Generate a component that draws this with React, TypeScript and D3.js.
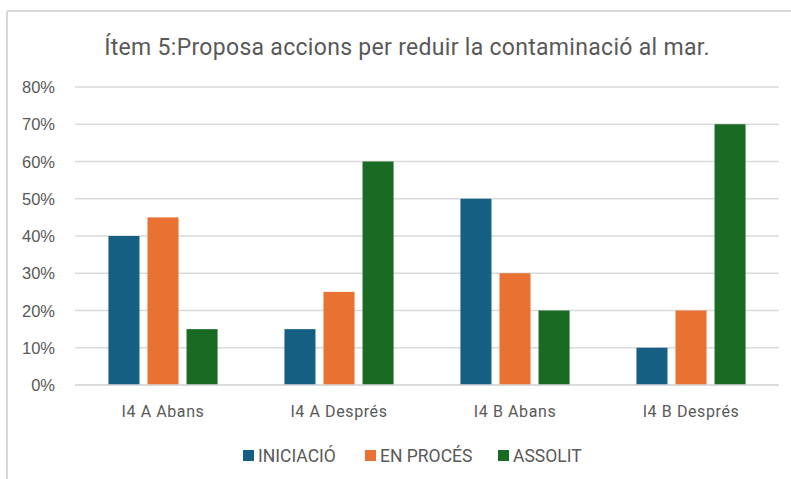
import React from "react";
import * as d3 from "d3";

const categories = ["I4 A Abans", "I4 A Després", "I4 B Abans", "I4 B Després"];
const seriesNames = ["INICIACIÓ", "EN PROCÉS", "ASSOLIT"];
const iniciacio = [0.4, 0.15, 0.5, 0.1];
const enProces = [0.45, 0.25, 0.3, 0.2];
const assolit = [0.15, 0.6, 0.2, 0.7];
const yTicks = [0, 0.1, 0.2, 0.3, 0.4, 0.5, 0.6, 0.7, 0.8];

const COLORS = ["#156082", "#E97132", "#196B24"];
const NARROW = "'Roboto', 'Liberation Sans', sans-serif";
const SANS = "'Liberation Sans', Arial, sans-serif";

export default function App() {
  const width = 791;
  const height = 479;
  const left = 75;
  const right = 779;
  const top = 87;
  const bottom = 385;

  const values = [iniciacio, enProces, assolit];

  const x0 = d3.scaleBand().domain(categories).range([left, right]).paddingInner(0.38).paddingOuter(0.19);
  const x1 = d3.scaleBand().domain(seriesNames).range([0, x0.bandwidth()]).paddingInner(0.205);
  const y = d3.scaleLinear().domain([0, 0.8]).range([bottom, top]);
  const fmt = d3.format(".0%");

  // legend positions
  const legendX = [243, 365, 498];

  return (
    <svg width={width} height={height} style={{ position: "absolute", left: 0, top: 0, background: "#fff" }}>
      {/* chart border */}
      <line x1={7} y1={11} x2={width} y2={11} stroke="#d9d9d9" strokeWidth={2} />
      <line x1={7} y1={11} x2={7} y2={height} stroke="#d9d9d9" strokeWidth={2} />

      <text x={407} y={55} textAnchor="middle" fontFamily={NARROW} fontSize={23} letterSpacing={0.3} fill="#595959">
        Ítem 5:Proposa accions per reduir la contaminació al mar.
      </text>

      {/* grid + y ticks */}
      {yTicks.map((t) => (
        <g key={t}>
          <line x1={left} x2={right} y1={y(t)} y2={y(t)} stroke="#d9d9d9" strokeWidth={1.5} />
          <text x={55} y={y(t) + 6} textAnchor="end" fontFamily={SANS} fontSize={16.5} fill="#595959">
            {fmt(t)}
          </text>
        </g>
      ))}

      {/* bars */}
      {categories.map((c, ci) => (
        <g key={c} transform={`translate(${x0(c)},0)`}>
          {seriesNames.map((s, si) => (
            <rect
              key={s}
              x={x1(s)}
              y={y(values[si][ci])}
              width={x1.bandwidth()}
              height={bottom - y(values[si][ci])}
              fill={COLORS[si]}
            />
          ))}
        </g>
      ))}

      <line x1={left} x2={right} y1={bottom} y2={bottom} stroke="#d9d9d9" strokeWidth={1.5} />

      {/* category labels */}
      {categories.map((c) => (
        <text key={c} x={(x0(c) ?? 0) + x0.bandwidth() / 2} y={417} textAnchor="middle" fontFamily={NARROW} fontSize={16} letterSpacing={0.6} fill="#595959">
          {c}
        </text>
      ))}

      {/* legend */}
      {seriesNames.map((s, i) => (
        <g key={s}>
          <rect x={legendX[i]} y={450} width={11} height={11} fill={COLORS[i]} />
          <text x={legendX[i] + 15} y={462} fontFamily={NARROW} fontSize={17.5} fill="#595959">
            {s}
          </text>
        </g>
      ))}
    </svg>
  );
}
